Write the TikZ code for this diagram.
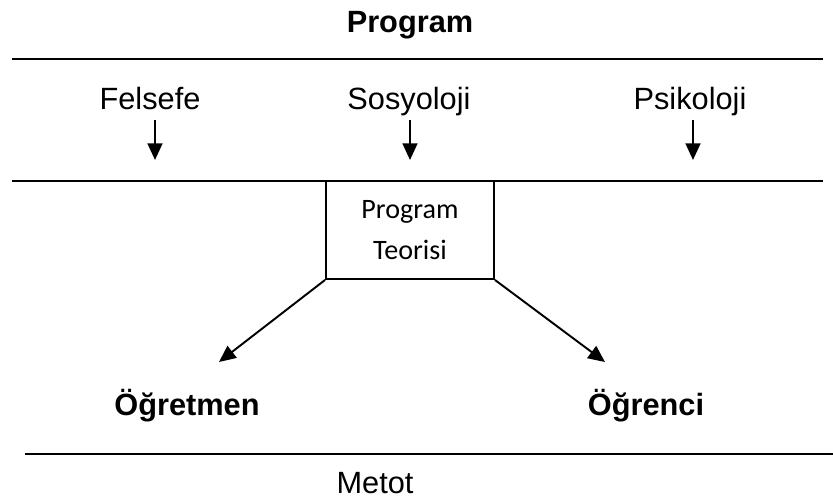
\documentclass[tikz,border=0pt]{standalone}
\usepackage{fontspec}
\setmainfont{Liberation Sans}
\newfontfamily\boxfont{Carlito}
\usetikzlibrary{arrows.meta}

\begin{document}
\begin{tikzpicture}[x=0.02cm, y=-0.02cm, >={Triangle[length=9.5pt,width=8.5pt]}, line width=1.1pt,
  lbl/.style={anchor=base, inner sep=0pt, font=\fontsize{17.5}{21}\selectfont},
  head/.style={anchor=base, inner sep=0pt, font=\fontsize{17.5}{21}\selectfont\bfseries},
  theory/.style={draw, line width=1.1pt, align=center, inner sep=0pt, minimum width=3.36cm, minimum height=1.96cm, font=\boxfont\fontsize{16}{23.5}\selectfont}]
\useasboundingbox (0,0) rectangle (833,500);
% rules
\draw (12,59) -- (823,59);
\draw (12,181) -- (823,181);
\draw (25,454) -- (833,454);
% top labels
\node[head] (program) at (410,33) {Program};
\node[lbl] (felsefe) at (150,110) {Felsefe};
\node[lbl] (sosyoloji) at (409,110) {Sosyoloji};
\node[lbl] (psikoloji) at (690,110) {Psikoloji};
\coordinate (fA) at (155,120); \coordinate (fB) at (155,160);
\coordinate (sA) at (410,120); \coordinate (sB) at (410,160);
\coordinate (pA) at (693,120); \coordinate (pB) at (693,160);
\draw[->] (fA) -- (fB);
\draw[->] (sA) -- (sB);
\draw[->] (pA) -- (pB);
% theory box
\node[theory] (teori) at (410,230) {Program\\Teorisi};
\node[head] (ogretmen) at (187,416) {Öğretmen};
\node[head] (ogrenci) at (646,416) {Öğrenci};
\coordinate (tipL) at (219,362);
\coordinate (tipR) at (605,362);
\draw[->] (teori.south west) -- (tipL);
\draw[->] (teori.south east) -- (tipR);
\node[lbl] (metot) at (375,494) {Metot};
\end{tikzpicture}
\end{document}
